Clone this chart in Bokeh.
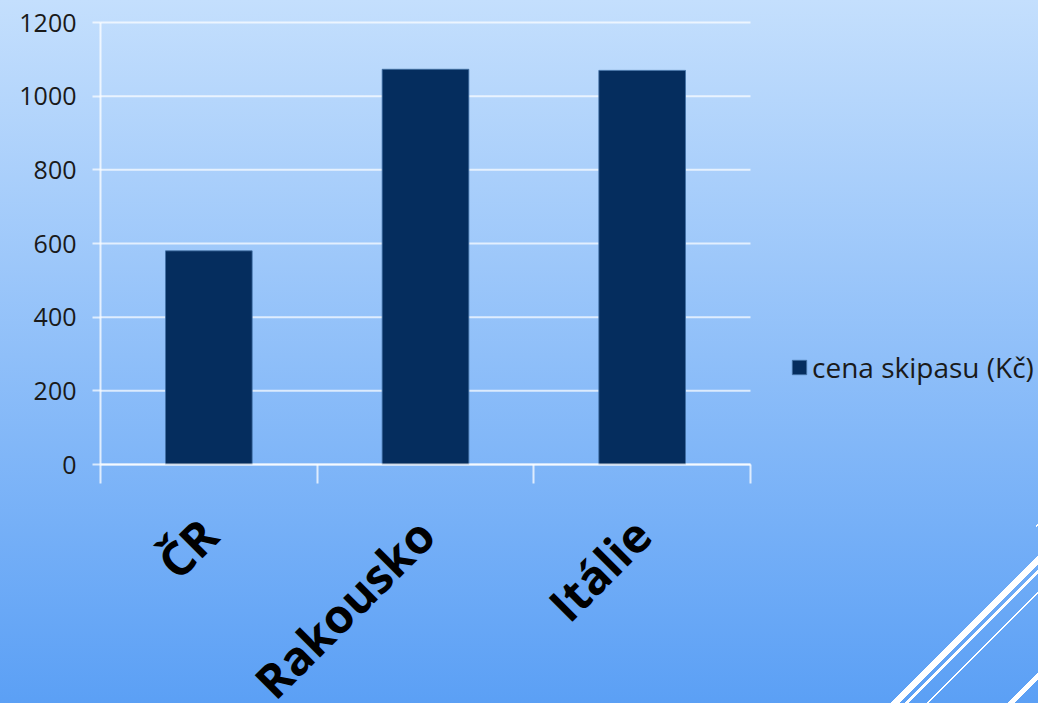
import math
from bokeh.plotting import figure
from bokeh.models import ColumnDataSource, Range1d, FixedTicker, Legend, LegendItem
from bokeh.core.properties import value
from bokeh.embed import file_html
from bokeh.resources import INLINE

# ---- data ----
categories = ["ČR", "Rakousko", "Itálie"]
prices = [580, 1073, 1070]
series_name = "cena skipasu (Kč)"
y_ticks = [0, 200, 400, 600, 800, 1000, 1200]

# ---- layout (pixels on the canvas) ----
W, H = 1046, 711
OFF = 8                      # canvas is pulled 8px up/left over the page margin
FL, FR = 100 + OFF, 750 + OFF  # plot area left / right
FT, FB = 22 + OFF, 464 + OFF   # plot area top / bottom

n = len(categories)
y_max = y_ticks[-1]
kx = (FR - FL) / n
ky = (FB - FT) / y_max

x_centers = [i + 0.5 for i in range(n)]
x_bounds = [i for i in range(n + 1)]

src = ColumnDataSource(dict(x=x_centers, top=prices, cat=categories))

p = figure(width=W, height=H, output_backend="svg", toolbar_location=None,
           x_range=Range1d(-FL / kx, n + (W - FR) / kx),
           y_range=Range1d(-(H - FB) / ky, y_max + FT / ky),
           min_border=0)
p.title.visible = False
p.background_fill_alpha = 0
p.border_fill_alpha = 0
p.outline_line_color = None

stripes = ("linear-gradient(135deg, transparent 1138.4px, #ffffff 1138.4px, #ffffff 1144.1px, "
           "transparent 1144.1px, transparent 1148.3px, #ffffff 1148.3px, #ffffff 1150.5px, "
           "transparent 1150.5px, transparent 1163.2px, #ffffff 1163.2px, #ffffff 1165.3px, "
           "transparent 1165.3px, transparent 1220.5px, #ffffff 1220.5px, #ffffff 1226.1px, "
           "transparent 1226.1px)")
short = ("linear-gradient(135deg, transparent 8.5px, #ffffff 8.5px, #ffffff 10.6px, "
         "transparent 10.6px)")
p.styles = {
    "margin": "-8px",
    "background-image": f"{short}, {stripes}, linear-gradient(180deg, #c4dffd 8px, #5a9ff5 719px)",
    "background-size": "10px 14px, 100% 100%, 100% 100%",
    "background-position": "1044px 521px, 0 0, 0 0",
    "background-repeat": "no-repeat",
}

p.xgrid.visible = False
p.ygrid.visible = False

# horizontal grid lines (only across the category area)
p.segment(x0=[0] * len(y_ticks), y0=y_ticks, x1=[n] * len(y_ticks), y1=y_ticks,
          line_color="white", line_alpha=0.7, line_width=2)

# bars
bars = p.vbar(x="x", top="top", width=0.4, bottom=0, source=src,
              fill_color="#052d5e", line_color="#4271a5", line_width=1, line_alpha=0.8)

# y axis
ya = p.yaxis[0]
ya.fixed_location = 0
ya.bounds = (0, y_max)
ya.ticker = FixedTicker(ticks=y_ticks)
ya.axis_line_color = "white"
ya.axis_line_alpha = 0.75
ya.axis_line_width = 2
ya.major_tick_line_color = "white"
ya.major_tick_line_alpha = 0.7
ya.major_tick_line_width = 2
ya.major_tick_out = 8
ya.major_tick_in = 0
ya.minor_tick_line_color = None
ya.major_label_standoff = 16
ya.major_label_text_font = "Open Sans"
ya.major_label_text_font_size = "25px"
ya.major_label_text_color = "#1a1a1a"

# x axis: separators at category bounds, rotated category labels at centres
xa = p.xaxis[0]
xa.fixed_location = 0
xa.bounds = (0, n)
xa.ticker = FixedTicker(ticks=x_centers, minor_ticks=x_bounds)
xa.major_label_overrides = {x: c for x, c in zip(x_centers, categories)}
xa.major_label_orientation = math.pi / 4
xa.major_label_standoff = 43
xa.major_label_text_font = "Open Sans"
xa.major_label_text_font_style = "bold"
xa.major_label_text_font_size = "47px"
xa.major_label_text_color = "#000000"
xa.axis_line_color = "white"
xa.axis_line_alpha = 0.75
xa.axis_line_width = 2
xa.major_tick_line_color = None
xa.major_tick_out = 0
xa.major_tick_in = 0
xa.minor_tick_line_color = "white"
xa.minor_tick_line_alpha = 0.75
xa.minor_tick_line_width = 2
xa.minor_tick_out = 19
xa.minor_tick_in = 0

# legend
legend = Legend(items=[LegendItem(label=value(series_name), renderers=[bars])],
                location=(790 + OFF, H - (368 + OFF) - 18), background_fill_alpha=0,
                border_line_color=None, padding=0, margin=0, glyph_width=18,
                glyph_height=18, label_standoff=4,
                label_text_font="Open Sans", label_text_font_size="28px",
                label_text_color="#1a1a1a")
p.add_layout(legend)

open("out.html", "w").write(file_html(p, INLINE))
